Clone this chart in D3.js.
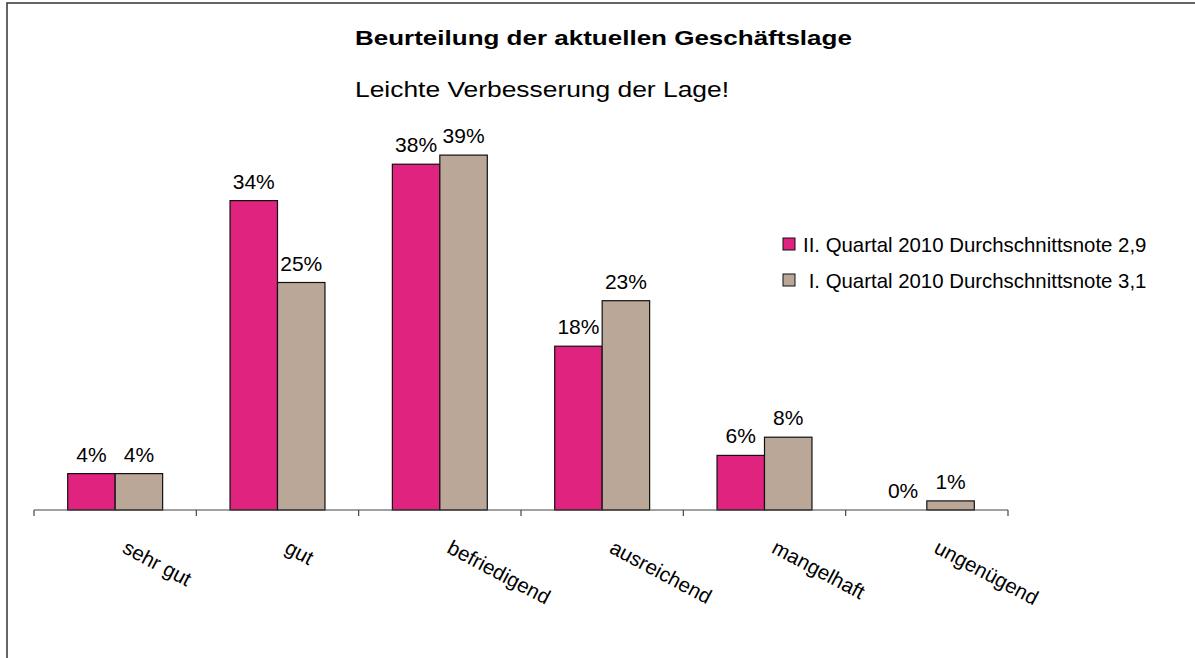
<!DOCTYPE html>
<html>
<head>
<meta charset="utf-8">
<script src="https://cdn.jsdelivr.net/npm/d3@7"></script>
<style>
  html, body { margin: 0; background: #fff; overflow: hidden; }
  svg { display: block; }
  svg text { font-family: Arial, "Liberation Sans", sans-serif; fill: #000; }
</style>
</head>
<body>
<script>
// data
const categories = ['sehr gut', 'gut', 'befriedigend', 'ausreichend', 'mangelhaft', 'ungenügend'];
const seriesNames = ['II. Quartal 2010 Durchschnittsnote 2,9', ' I. Quartal 2010 Durchschnittsnote 3,1'];
const q2Values = [4, 34, 38, 18, 6, 0];
const q1Values = [4, 25, 39, 23, 8, 1];
const seriesColors = ['#e0237f', '#bba797'];

const width = 1195, height = 658;

let svg = d3.select('body').append('svg')
  .attr('width', width)
  .attr('height', height);

// outer frame: only the left and top edges fall inside the picture
svg.append('path')
  .attr('d', `M7,${height} L7,3 L${width},3`)
  .attr('fill', 'none')
  .attr('stroke', '#333')
  .attr('stroke-width', 1.5);

// titles (the original is stretched sideways)
svg.append('text')
  .attr('transform', 'translate(355,45) scale(1.3,1)')
  .style('font-size', '20px')
  .style('font-weight', 'bold')
  .text('Beurteilung der aktuellen Geschäftslage');

svg.append('text')
  .attr('transform', 'translate(355,97) scale(1.2,1)')
  .style('font-size', '22px')
  .text('Leichte Verbesserung der Lage!');

// scales
let x0 = d3.scaleBand()
  .domain(categories)
  .range([34, 1008]);

let x1 = d3.scaleBand()
  .domain([0, 1])
  .range([0, x0.bandwidth()])
  .paddingOuter(0.71);

let y = d3.scaleLinear()
  .domain([0, 40])
  .range([510, 146]);

let rows = categories.map((c, i) => ({ cat: c, vals: [q2Values[i], q1Values[i]] }));

// bars
let groups = svg.append('g')
  .selectAll('g')
  .data(rows)
  .enter()
  .append('g')
  .attr('transform', d => `translate(${x0(d.cat)},0)`);

groups.selectAll('rect')
  .data(d => d.vals.map((v, k) => ({ k: k, v: v })).filter(e => e.v > 0))
  .enter()
  .append('rect')
  .attr('x', e => x1(e.k))
  .attr('y', e => y(e.v))
  .attr('width', x1.bandwidth())
  .attr('height', e => y(0) - y(e.v))
  .attr('fill', e => seriesColors[e.k])
  .attr('stroke', '#111')
  .attr('stroke-width', 1.2);

// value labels
groups.selectAll('text')
  .data(d => d.vals.map((v, k) => ({ k: k, v: v })))
  .enter()
  .append('text')
  .attr('x', e => x1(e.k) + x1.bandwidth() / 2)
  .attr('y', e => y(e.v) - 12)
  .attr('text-anchor', 'middle')
  .style('font-size', '21px')
  .text(e => e.v + '%');

// axis
let axis = svg.append('g').attr('transform', `translate(0,${y(0)})`);
axis.append('line')
  .attr('x1', x0.range()[0])
  .attr('x2', x0.range()[1])
  .attr('stroke', '#444')
  .attr('stroke-width', 1.2);

let tickPos = categories.map(c => x0(c)).concat([x0.range()[1]]);
axis.selectAll('line.tick')
  .data(tickPos)
  .enter()
  .append('line')
  .attr('class', 'tick')
  .attr('x1', d => d).attr('x2', d => d)
  .attr('y1', 0).attr('y2', 6)
  .attr('stroke', '#444')
  .attr('stroke-width', 1.2);

// category labels, rotated
svg.append('g')
  .selectAll('text')
  .data(categories)
  .enter()
  .append('text')
  .attr('transform', d => `translate(${x0(d) + x0.bandwidth() / 2 + 6},552) rotate(28)`)
  .style('font-size', '20.5px')
  .text(d => d);

// legend
let legend = svg.append('g').attr('transform', 'translate(783,238)');
let li = legend.selectAll('g')
  .data(seriesNames)
  .enter()
  .append('g')
  .attr('transform', (d, i) => `translate(0,${i * 36})`);

li.append('rect')
  .attr('width', 12)
  .attr('height', 12)
  .attr('fill', (d, i) => seriesColors[i])
  .attr('stroke', '#111')
  .attr('stroke-width', 1);

li.append('text')
  .attr('x', 20)
  .attr('y', 14)
  .style('font-size', '20.4px')
  .style('white-space', 'pre')
  .text(d => d);
</script>
</body>
</html>
